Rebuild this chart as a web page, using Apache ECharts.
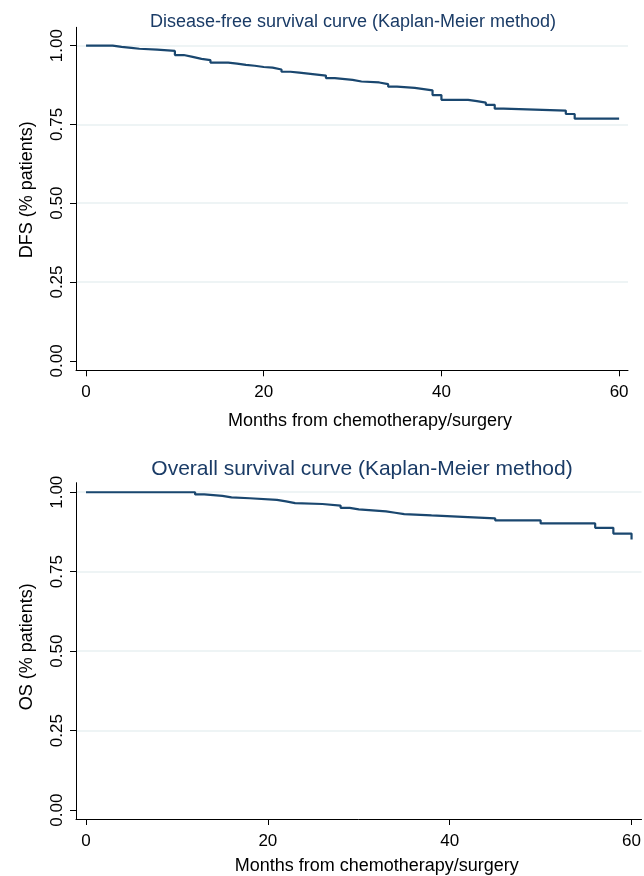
<!DOCTYPE html>
<html>
<head>
<meta charset="utf-8">
<script src="https://cdn.jsdelivr.net/npm/echarts@6/dist/echarts.min.js"></script>
<style>
html,body{margin:0;padding:0;background:#fff;}
#c{width:644px;height:876px;}
</style>
</head>
<body>
<div id="c"></div>
<script>
// ---- data ----
const xTicks = [0, 20, 40, 60];
const yTicks = [0, 0.25, 0.5, 0.75, 1];

const dfsMonths = [0, 3, 4, 5.1, 6, 8, 10, 11, 12, 13, 14, 16, 17, 18, 19, 20, 21, 22, 23, 24, 25, 27, 28, 30, 31, 33, 34, 35, 37, 38, 39, 40, 43, 44, 45, 46, 47, 54, 55, 60];
const dfsSurv   = [1.000, 0.996, 0.993, 0.990, 0.987, 0.983, 0.970, 0.964, 0.958, 0.954, 0.946, 0.943, 0.939, 0.936, 0.932, 0.930, 0.924, 0.917, 0.914, 0.911, 0.905, 0.897, 0.891, 0.886, 0.883, 0.878, 0.870, 0.866, 0.862, 0.858, 0.843, 0.828, 0.824, 0.819, 0.812, 0.800, 0.794, 0.783, 0.768, 0.768];

const osMonths = [0, 12, 13, 15, 16, 18, 21, 22, 23, 26, 28, 29, 30, 33, 34, 35, 38, 42, 45, 50, 56, 58, 60];
const osSurv   = [1.000, 0.993, 0.9885, 0.984, 0.981, 0.976, 0.971, 0.966, 0.963, 0.958, 0.951, 0.946, 0.940, 0.9355, 0.931, 0.927, 0.922, 0.918, 0.9115, 0.902, 0.888, 0.870, 0.851];

const titles = ['Disease-free survival curve (Kaplan-Meier method)', 'Overall survival curve (Kaplan-Meier method)'];
const yNames = ['DFS (% patients)', 'OS (% patients)'];
const xName = 'Months from chemotherapy/surgery';

// ---- build ----
const FONT = 'Liberation Sans, Arial, Helvetica, sans-serif';
const lineColor = '#1a476f';
const titleColor = '#1a3b66';

function pairs(xs, ys) { return xs.map((x, i) => [x, ys[i]]); }

const grids = [
  { left: 76, top: 27.3, width: 552, height: 343 },
  { left: 76, top: 482.7, width: 566, height: 339.6 }
];
const xRanges = [[-1.13, 61.0], [-1.1, 61.1]];
const yRanges = [[-0.030, 1.058], [-0.028, 1.030]];
const xNameGaps = [42, 38];
const yNamePad = [[0, 0, 0, 18], [0, 0, 0, 8]];

const option = {
  animation: false,
  backgroundColor: '#fff',
  textStyle: { fontFamily: FONT },
  title: [
    { text: titles[0], left: 348, top: 8, textAlign: 'center',
      textStyle: { fontFamily: FONT, fontSize: 18, fontWeight: 'normal', color: titleColor } },
    { text: titles[1], left: 357, top: 454, textAlign: 'center',
      textStyle: { fontFamily: FONT, fontSize: 21, fontWeight: 'normal', color: titleColor } }
  ],
  grid: grids.map(g => Object.assign({ containLabel: false }, g)),
  xAxis: [0, 1].map(i => ({
    type: 'value', gridIndex: i,
    min: xRanges[i][0], max: xRanges[i][1],
    name: xName, nameLocation: 'middle', nameGap: xNameGaps[i],
    nameTextStyle: { fontFamily: FONT, fontSize: 18, color: '#000', padding: [0, 0, 0, 36] },
    axisLine: { show: true, onZero: false, lineStyle: { color: '#000', width: 1 } },
    axisTick: { show: true, customValues: xTicks, length: 6, lineStyle: { color: '#000', width: 1 } },
    axisLabel: { customValues: xTicks, fontSize: 17, color: '#000', margin: 14, fontFamily: FONT },
    splitLine: { show: false }
  })),
  yAxis: [0, 1].map(i => ({
    type: 'value', gridIndex: i,
    min: yRanges[i][0], max: yRanges[i][1],
    name: yNames[i], nameLocation: 'middle', nameGap: 40,
    nameTextStyle: { fontFamily: FONT, fontSize: 18, color: '#000', padding: yNamePad[i] },
    axisLine: { show: true, onZero: false, lineStyle: { color: '#000', width: 1 } },
    axisTick: { show: true, customValues: yTicks, length: 6, lineStyle: { color: '#000', width: 1 } },
    axisLabel: { customValues: yTicks, rotate: 90, fontSize: 17, color: '#000', margin: 10, fontFamily: FONT,
      formatter: v => v.toFixed(2) },
    splitLine: { show: true, showMinLine: false, lineStyle: { color: '#e8f0f2', width: 1.5 } }
  })),
  series: [
    { type: 'line', xAxisIndex: 0, yAxisIndex: 0, step: 'end', showSymbol: false, symbol: 'none',
      data: pairs(dfsMonths, dfsSurv), lineStyle: { color: lineColor, width: 2.2 } },
    { type: 'line', xAxisIndex: 1, yAxisIndex: 1, step: 'end', showSymbol: false, symbol: 'none',
      data: pairs(osMonths, osSurv), lineStyle: { color: lineColor, width: 2.2 } }
  ]
};

const chart = echarts.init(document.getElementById('c'), null, { renderer: 'canvas' });
chart.setOption(option);
</script>
</body>
</html>
